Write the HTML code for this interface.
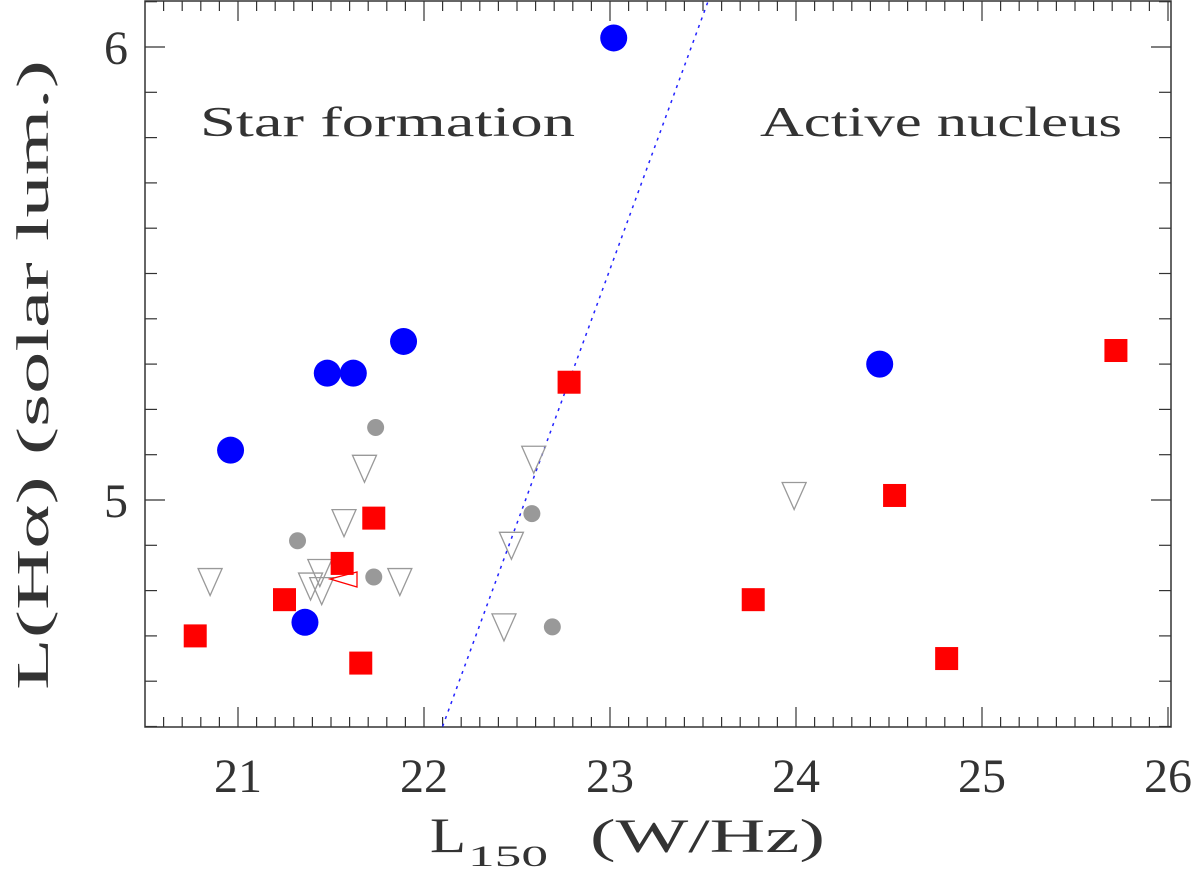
<!DOCTYPE html>
<html><head><meta charset="utf-8"><style>
body{margin:0;background:#fff}
text{font-family:"Liberation Serif",serif;fill:#333}
</style></head><body>
<svg id="chart" width="1200" height="884" viewBox="0 0 1200 884">
<g id="grid"></g><g id="marks"></g>
<text x="200" y="136" font-size="42" textLength="375" lengthAdjust="spacingAndGlyphs">Star formation</text>
<text x="760" y="136" font-size="42" textLength="362" lengthAdjust="spacingAndGlyphs">Active nucleus</text>
<g>
<text x="430" y="852" font-size="50" textLength="36" lengthAdjust="spacingAndGlyphs">L</text>
<text x="468" y="866" font-size="30" textLength="80" lengthAdjust="spacingAndGlyphs">150</text>
<text x="590" y="852" font-size="48" textLength="235" lengthAdjust="spacingAndGlyphs">(W/Hz)</text>
</g>
<text transform="translate(48,690) rotate(-90)" font-size="46" textLength="630" lengthAdjust="spacingAndGlyphs">L(Hα) (solar lum.)</text>
</svg>
<script>
const xTicks=[21,22,23,24,25,26];
const yTicks=[5,6];
const blueX=[20.96,21.48,21.62,21.89,23.02,21.36,24.45];
const blueY=[5.11,5.28,5.28,5.35,6.02,4.73,5.30];
const redX=[20.77,21.25,21.56,21.73,21.66,22.78,23.77,24.53,24.81,25.72];
const redY=[4.70,4.78,4.86,4.96,4.64,5.26,4.78,5.01,4.65,5.33];
const grayX=[21.74,21.32,21.73,22.58,22.69];
const grayY=[5.16,4.91,4.83,4.97,4.72];
const triX=[20.85,21.68,21.57,21.39,21.44,21.45,21.87,22.59,22.47,22.43,23.99];
const triY=[4.82,5.07,4.95,4.81,4.84,4.80,4.82,5.09,4.90,4.72,5.01];
const lineX=[22.10,23.53];
const lineY=[4.5,6.104];
const L=145,R=1171,T=1,B=727;
const X=v=>238+(v-21)*186;
const Y=v=>500-(v-5)*453;
const NS='http://www.w3.org/2000/svg';
const g=document.getElementById('grid'),m=document.getElementById('marks');
function mk(tag,at,p){const e=document.createElementNS(NS,tag);for(const k in at)e.setAttribute(k,at[k]);p.appendChild(e);return e;}
let fr=mk('rect',{x:L,y:T,width:R-L,height:B-T,fill:'none',stroke:'#333','stroke-width':1.5},g);


for(let i=0;;i++){const v=20.6+i*0.1;const px=X(v);if(px>R)break;if(px<L)continue;
 const maj=Math.abs(v-Math.round(v))<0.01;const len=maj?20:10;
 mk('line',{x1:px,x2:px,y1:B,y2:B-len,stroke:'#333','stroke-width':1.2},g);
 mk('line',{x1:px,x2:px,y1:T,y2:T+len,stroke:'#333','stroke-width':1.2},g);}
for(let i=0;;i++){const v=4.5+i*0.1;const py=Y(v);if(py<T)break;if(py>B)continue;
 const maj=Math.abs(v-Math.round(v))<0.01;const len=maj?20:12;
 mk('line',{x1:L,x2:L+len,y1:py,y2:py,stroke:'#333','stroke-width':1.2},g);
 mk('line',{x1:R,x2:R-len,y1:py,y2:py,stroke:'#333','stroke-width':1.2},g);}
xTicks.forEach(v=>{const t=mk('text',{x:X(v),y:792,'font-size':48,'text-anchor':'middle'},g);t.textContent=v;
 
 });
yTicks.forEach(v=>{const t=mk('text',{x:116,y:Y(v)+17,'font-size':48,'text-anchor':'middle'},g);t.textContent=v;
 
 });
let ln=mk('line',{x1:X(lineX[0]),y1:Y(lineY[0]),x2:X(lineX[1]),y2:Y(lineY[1]),stroke:'#2222ff','stroke-width':1.5,'stroke-dasharray':'3,5'},m);


triX.forEach((v,i)=>{const cx=X(v),cy=Y(triY[i]);
 const p=mk('polygon',{points:`${cx-12},${cy-13} ${cx+12},${cy-13} ${cx},${cy+14}`,fill:'none',stroke:'#999','stroke-width':1.3},m);
 
 });
grayX.forEach((v,i)=>{const c=mk('circle',{cx:X(v),cy:Y(grayY[i]),r:8.5,fill:'#999'},m);
 
 });
let rp=mk('polygon',{points:'330,579 357,587 357,572',fill:'none',stroke:'red','stroke-width':1.3},m);


redX.forEach((v,i)=>{const r=mk('rect',{x:X(v)-11.5,y:Y(redY[i])-11.5,width:23,height:23,fill:'#ff0000'},m);
 
 });
blueX.forEach((v,i)=>{const c=mk('circle',{cx:X(v),cy:Y(blueY[i]),r:13.5,fill:'#0000ff'},m);
 
 });
</script>
</body></html>
